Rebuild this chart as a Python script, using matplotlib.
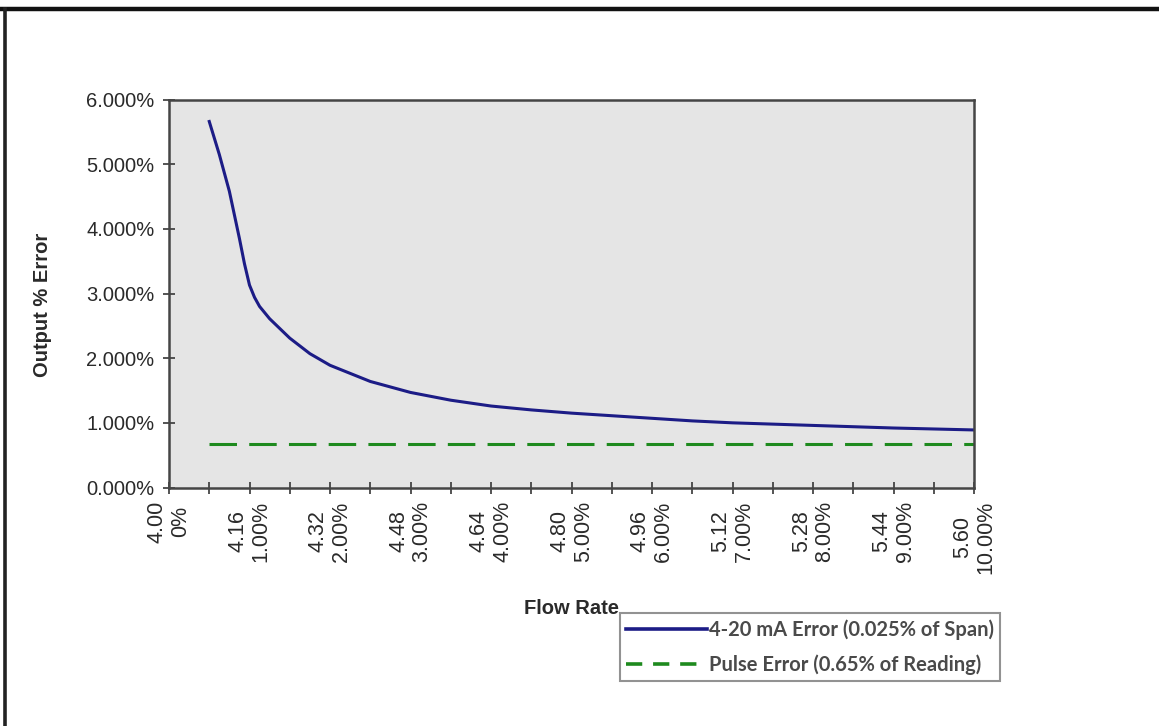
import numpy as np
import matplotlib
matplotlib.use("Agg")
import matplotlib.pyplot as plt
from matplotlib.lines import Line2D

# ---- data --------------------------------------------------------------------
flow_pct = [0.5, 0.625, 0.75, 0.875, 0.9375, 1.0, 1.0625, 1.125, 1.25, 1.5, 1.75, 2.0,
            2.5, 3.0, 3.5, 4.0, 4.5, 5.0, 5.5, 6.0, 6.5, 7.0, 7.5, 8.0, 8.5, 9.0, 9.5, 10.0]
ma_error = [5.66, 5.15, 4.58, 3.85, 3.46, 3.13, 2.94, 2.80, 2.61, 2.31, 2.07, 1.89,
            1.64, 1.47, 1.35, 1.26, 1.20, 1.15, 1.11, 1.07, 1.03, 1.00, 0.98, 0.96,
            0.94, 0.92, 0.905, 0.89]
pulse_flow = [0.5, 10.0]
pulse_error = [0.67, 0.67]

tick_pos = [0, 1, 2, 3, 4, 5, 6, 7, 8, 9, 10]
tick_ma = ["4.00", "4.16", "4.32", "4.48", "4.64", "4.80", "4.96", "5.12", "5.28", "5.44", "5.60"]
tick_pct = ["0%", "1.00%", "2.00%", "3.00%", "4.00%", "5.00%", "6.00%", "7.00%",
            "8.00%", "9.00%", "10.00%"]
y_ticks = [0, 1, 2, 3, 4, 5, 6]

W, H = 1159, 726
BLUE, GREEN = "#1c1c86", "#1e8a1e"
AXC, TXT = "#454545", "#2a2a2a"

plt.rcParams.update({"font.family": ["Liberation Sans", "DejaVu Sans"]})
fig = plt.figure(figsize=(W / 100, H / 100), dpi=100)
fig.patch.set_facecolor("white")

# outer frame: thick top line + left line
fig.add_artist(Line2D([0, 1], [1 - 9 / H, 1 - 9 / H], color="#111111", lw=3.2,
                      transform=fig.transFigure))
fig.add_artist(Line2D([4.5 / W, 4.5 / W], [0, 1 - 9 / H], color="#222222", lw=2.6,
                      transform=fig.transFigure))

ax = fig.add_axes([169 / W, 1 - 487.5 / H, (974 - 169) / W, (487.5 - 99.5) / H])
ax.set_facecolor("#e5e5e5")

ax.plot(flow_pct, ma_error, color=BLUE, lw=2.2, solid_joinstyle="round",
        label="4-20 mA Error (0.025% of Span)")
ax.plot(pulse_flow, pulse_error, color=GREEN, lw=2.2, dashes=(9, 4),
        label="Pulse Error (0.65% of Reading)")

xt = np.arange(0, 10.01, 0.5)
xlabels = []
for t in xt:
    if float(t).is_integer():
        i = tick_pos.index(int(t))
        xlabels.append(f"{tick_ma[i]}\n{tick_pct[i]}")
    else:
        xlabels.append("")

ax.set_xlim(0, 10)
ax.set_ylim(0, 6)
ax.set_xticks(xt)
ax.set_xticklabels(xlabels, rotation=90, ha="center", va="top",
                   multialignment="center", linespacing=1.15, fontsize=15.5)
ax.set_yticks(y_ticks)
ax.set_yticklabels([f"{v:.3f}%" for v in y_ticks], fontsize=14.5)

for sp in ax.spines.values():
    sp.set_color(AXC)
    sp.set_linewidth(1.8)
ax.tick_params(axis="both", direction="inout", length=9, width=1.3, color=AXC,
               labelcolor=TXT)
ax.tick_params(axis="x", pad=5)
ax.tick_params(axis="y", pad=6)

ax.set_ylabel("Output % Error", fontsize=14.5, fontweight="bold", color=TXT)
ax.yaxis.set_label_coords((52 - 169) / 805, 0.47)
ax.set_xlabel("Flow Rate", fontsize=14.5, fontweight="bold", color=TXT)
ax.xaxis.set_label_coords(0.5, -(609 - 487.5) / 388)
ax.xaxis.label.set_va("center")

# legend handles: shorter dashes like the original legend swatch
handles = [Line2D([0], [0], color=BLUE, lw=2.6),
           Line2D([0], [0], color=GREEN, lw=2.6, dashes=(4.5, 3))]
labels = ["4-20 mA Error (0.025% of Span)", "Pulse Error (0.65% of Reading)"]
leg = fig.legend(handles, labels, loc="upper left", bbox_to_anchor=(620 / W, 1 - 613 / H),
                 frameon=True, fancybox=False, shadow=False, borderpad=0.3,
                 handlelength=4.0, handletextpad=0.1, labelspacing=0.75,
                 borderaxespad=0, prop={"family": ["Lato", "DejaVu Sans"],
                                        "weight": "bold", "size": 14.5})
leg.get_frame().set_edgecolor("#777777")
leg.get_frame().set_linewidth(1.5)
for t in leg.get_texts():
    t.set_color("#4a4a4a")

fig.savefig("out.png", dpi=100, facecolor="white")
